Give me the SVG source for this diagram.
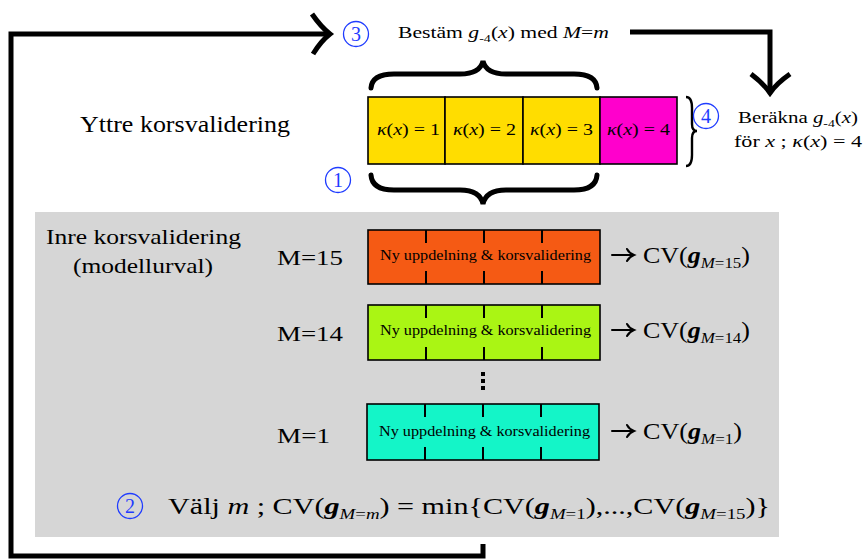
<svg xmlns="http://www.w3.org/2000/svg" width="864" height="559" viewBox="0 0 864 559" font-family="'Liberation Serif', 'Times New Roman', serif">
  <style>
    text { font-family: "Liberation Serif", "Times New Roman", serif; fill: #000; }
    .it { font-style: italic; }
    .bf { font-weight: bold; font-style: italic; }
    .num { fill: #1f3cff; font-size: 20px; text-anchor: middle; }
    .ring { fill: none; stroke: #1f3cff; stroke-width: 1.3; }
    .fold { stroke: #000; stroke-width: 1.6; }
    .tick { stroke: #000; stroke-width: 2; }
    .thick { fill: none; stroke: #000; stroke-width: 5; stroke-linejoin: miter; }
    .brace { fill: none; stroke: #000; stroke-width: 5; stroke-linecap: round; }
    .to { fill: none; stroke: #000; stroke-width: 2; stroke-linecap: round; }
    .small { font-size: 14px; }
    .kap { font-size: 16px; }
    .lbl { font-size: 21px; }
    .cv { font-size: 23px; }
  </style>

  <defs>
    <!-- math "to" arrow used before each CV score -->
    <path id="to-arrow" class="to" d="M0,0 H21 M15,-6 Q17,-2 22,0 Q17,2 15,6"/>
  </defs>

  <!-- inner cross-validation panel -->
  <rect id="inner-panel" x="35" y="212" width="744" height="325" fill="#d6d6d6"/>

  <g id="connectors">
    <!-- feedback loop from the model choice back to step 3 -->
    <polyline class="thick" points="483,544 483,556 11,556 11,34 328,34"/>
    <path class="thick" d="M312,14 Q321,27 330,34 Q321,41 313,54"/>
    <!-- step 3 to step 4 -->
    <polyline class="thick" points="630,32 770,32 770,90"/>
    <path class="thick" d="M751,74 Q763,83 770,93 Q777,83 790,74"/>
    <!-- braces over the training folds -->
    <path class="brace" d="M371,88 Q372,74 394,74 L460,74 Q480,74 483,61 Q486,74 506,74 L574,74 Q596,74 597,88"/>
    <path class="brace" d="M371,175 Q372,190 394,190 L460,190 Q480,190 483,204 Q486,190 506,190 L574,190 Q596,190 597,175"/>
    <!-- brace beside the test fold -->
    <path fill="none" stroke="#000" stroke-width="2.4" d="M686,97 Q692,97 692,108 L692,124 Q692,131 697,131 Q692,131 692,138 L692,155 Q692,166 686,166"/>
  </g>

  <g id="step3">
    <circle class="ring" cx="356" cy="34" r="12.5"/>
    <text class="num" x="356" y="41">3</text>
    <text x="398" y="38" font-size="17" textLength="211" lengthAdjust="spacingAndGlyphs">Bestäm <tspan class="it">g</tspan><tspan font-size="11" dy="4">-4</tspan><tspan dy="-4">(</tspan><tspan class="it">x</tspan>) med <tspan class="it">M</tspan>=<tspan class="it">m</tspan></text>
  </g>

  <g id="outer-label">
    <text x="80" y="132" font-size="23" textLength="210" lengthAdjust="spacingAndGlyphs">Yttre korsvalidering</text>
  </g>

  <g id="outer-folds">
    <rect x="368" y="97" width="77" height="67" fill="#ffdd00" class="fold"/>
    <rect x="445" y="97" width="78" height="67" fill="#ffdd00" class="fold"/>
    <rect x="523" y="97" width="77" height="67" fill="#ffdd00" class="fold"/>
    <rect x="600" y="97" width="77" height="67" fill="#ff00cc" class="fold"/>
    <text class="kap" x="377" y="135" textLength="63" lengthAdjust="spacingAndGlyphs"><tspan class="it">κ</tspan>(<tspan class="it">x</tspan>) = 1</text>
    <text class="kap" x="453" y="135" textLength="63" lengthAdjust="spacingAndGlyphs"><tspan class="it">κ</tspan>(<tspan class="it">x</tspan>) = 2</text>
    <text class="kap" x="530" y="135" textLength="63" lengthAdjust="spacingAndGlyphs"><tspan class="it">κ</tspan>(<tspan class="it">x</tspan>) = 3</text>
    <text class="kap" x="607" y="135" textLength="63" lengthAdjust="spacingAndGlyphs"><tspan class="it">κ</tspan>(<tspan class="it">x</tspan>) = 4</text>
  </g>

  <g id="step1">
    <circle class="ring" cx="338" cy="180" r="12.5"/>
    <text class="num" x="338" y="187">1</text>
  </g>

  <g id="step4">
    <circle class="ring" cx="706" cy="116" r="12.5"/>
    <text class="num" x="706" y="123">4</text>
    <text x="738" y="123" font-size="16" textLength="120" lengthAdjust="spacingAndGlyphs">Beräkna <tspan class="it">g</tspan><tspan font-size="10.5" dy="4">-4</tspan><tspan dy="-4">(</tspan><tspan class="it">x</tspan>)</text>
    <text x="734" y="147" font-size="16" textLength="128" lengthAdjust="spacingAndGlyphs">för <tspan class="it">x</tspan> ; <tspan class="it">κ</tspan>(<tspan class="it">x</tspan>) = 4</text>
  </g>

  <g id="inner-label">
    <text x="46" y="244" font-size="22" textLength="195" lengthAdjust="spacingAndGlyphs">Inre korsvalidering</text>
    <text x="73" y="273" font-size="22" textLength="140" lengthAdjust="spacingAndGlyphs">(modellurval)</text>
  </g>

  <g id="model-15">
    <text class="lbl" x="277" y="265" textLength="66" lengthAdjust="spacingAndGlyphs">M=15</text>
    <rect x="368" y="230" width="232" height="54" fill="#f55a14" class="fold"/>
    <path class="tick" d="M426,230v13M484,230v13M542,230v13M426,271v13M484,271v13M542,271v13"/>
    <text class="small" x="380" y="260" textLength="211" lengthAdjust="spacingAndGlyphs">Ny uppdelning &amp; korsvalidering</text>
    <use href="#to-arrow" x="612" y="255"/>
    <text class="cv" x="643" y="263" textLength="107" lengthAdjust="spacingAndGlyphs">CV(<tspan class="bf">g</tspan><tspan class="it" font-size="15" dy="5">M</tspan><tspan font-size="15">=15</tspan><tspan dy="-5">)</tspan></text>
  </g>

  <g id="model-14">
    <text class="lbl" x="277" y="341" textLength="66" lengthAdjust="spacingAndGlyphs">M=14</text>
    <rect x="368" y="305" width="232" height="55" fill="#aaf514" class="fold"/>
    <path class="tick" d="M426,305v13M484,305v13M542,305v13M426,347v13M484,347v13M542,347v13"/>
    <text class="small" x="380" y="335" textLength="211" lengthAdjust="spacingAndGlyphs">Ny uppdelning &amp; korsvalidering</text>
    <use href="#to-arrow" x="612" y="330"/>
    <text class="cv" x="643" y="338" textLength="107" lengthAdjust="spacingAndGlyphs">CV(<tspan class="bf">g</tspan><tspan class="it" font-size="15" dy="5">M</tspan><tspan font-size="15">=14</tspan><tspan dy="-5">)</tspan></text>
  </g>

  <g id="ellipsis">
    <rect x="481" y="372" width="4" height="4"/>
    <rect x="481" y="379" width="4" height="4"/>
    <rect x="481" y="386" width="4" height="4"/>
  </g>

  <g id="model-1">
    <text class="lbl" x="277" y="443" textLength="53" lengthAdjust="spacingAndGlyphs">M=1</text>
    <rect x="367" y="404" width="232" height="56" fill="#14f5c8" class="fold"/>
    <path class="tick" d="M425,404v13M483,404v13M541,404v13M425,447v13M483,447v13M541,447v13"/>
    <text class="small" x="379" y="436" textLength="211" lengthAdjust="spacingAndGlyphs">Ny uppdelning &amp; korsvalidering</text>
    <use href="#to-arrow" x="612" y="431"/>
    <text class="cv" x="643" y="439" textLength="99" lengthAdjust="spacingAndGlyphs">CV(<tspan class="bf">g</tspan><tspan class="it" font-size="15" dy="5">M</tspan><tspan font-size="15">=1</tspan><tspan dy="-5">)</tspan></text>
  </g>

  <g id="step2">
    <circle class="ring" cx="130" cy="506" r="12.5"/>
    <text class="num" x="130" y="513">2</text>
    <text x="168" y="514" font-size="24" textLength="602" lengthAdjust="spacingAndGlyphs">Välj <tspan class="it">m</tspan> ; CV(<tspan class="bf">g</tspan><tspan class="it" font-size="15" dy="5">M</tspan><tspan font-size="15">=</tspan><tspan class="it" font-size="15">m</tspan><tspan dy="-5">)</tspan> = min{CV(<tspan class="bf">g</tspan><tspan class="it" font-size="15" dy="5">M</tspan><tspan font-size="15">=1</tspan><tspan dy="-5">)</tspan>,...,CV(<tspan class="bf">g</tspan><tspan class="it" font-size="15" dy="5">M</tspan><tspan font-size="15">=15</tspan><tspan dy="-5">)</tspan>}</text>
  </g>
</svg>
